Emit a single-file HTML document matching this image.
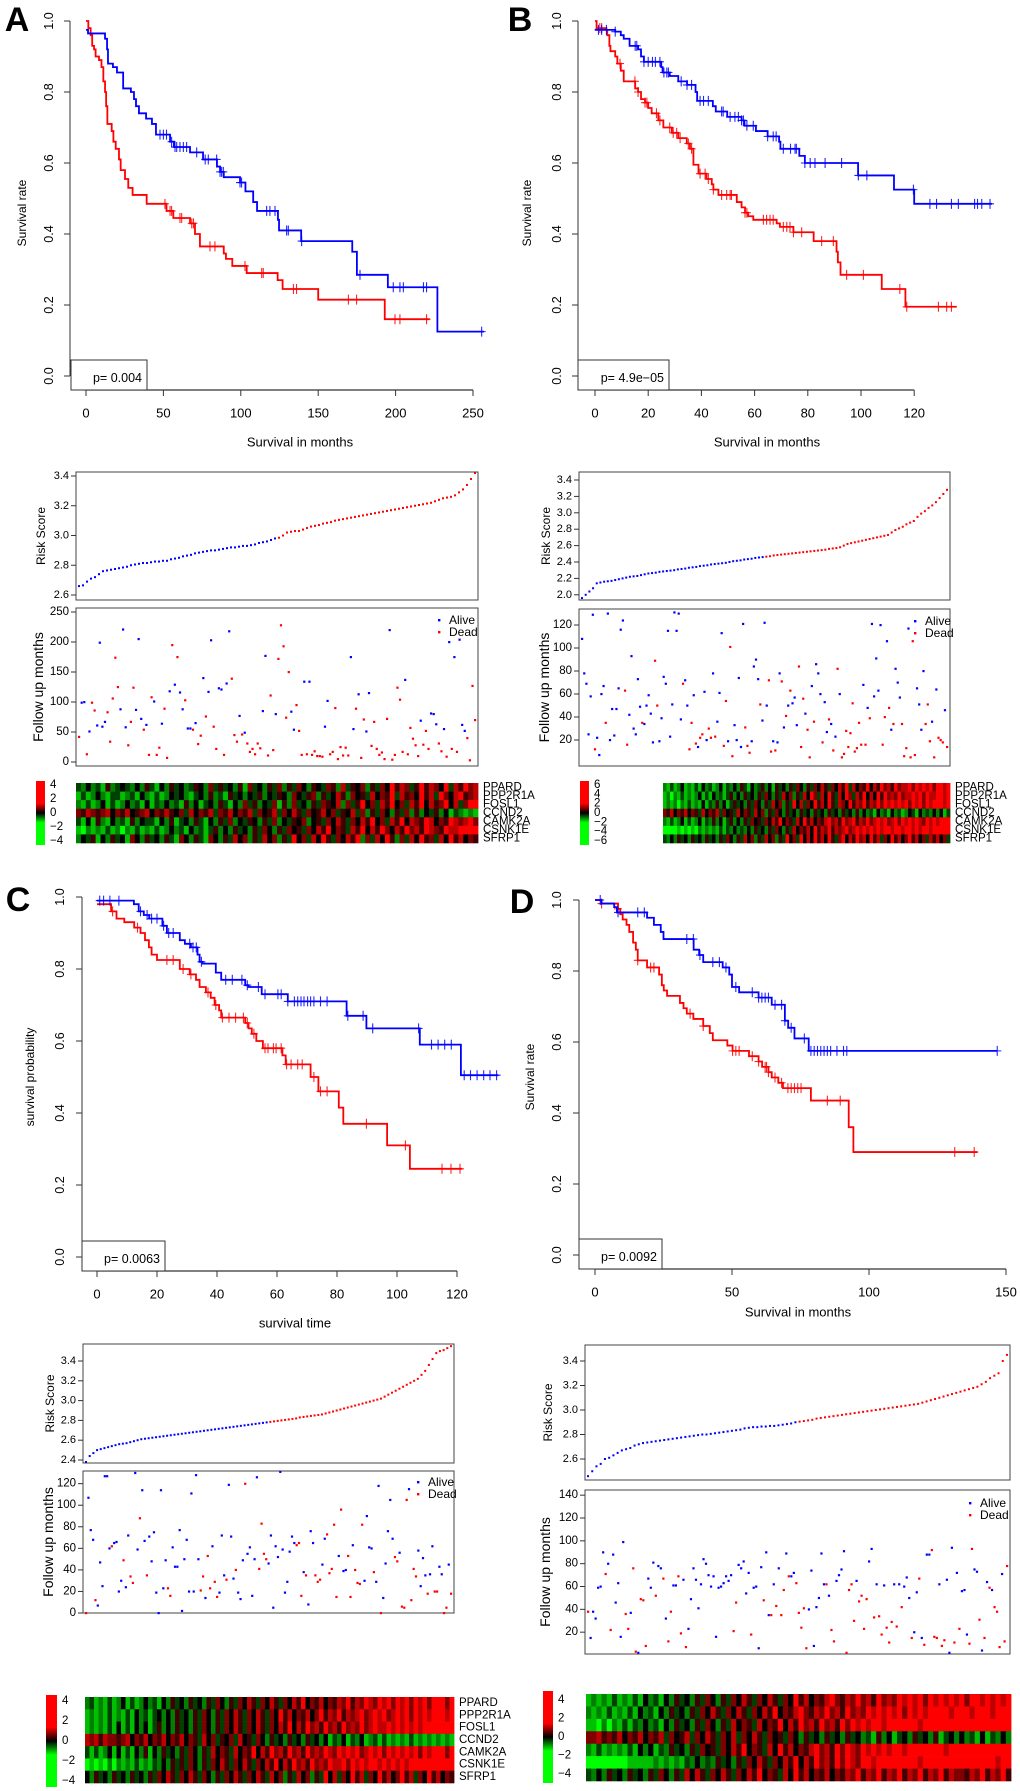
<!DOCTYPE html>
<html><head><meta charset="utf-8"><style>
html,body{margin:0;padding:0;background:#fff;}
svg{display:block;font-family:"Liberation Sans",Arial,sans-serif;}
</style></head><body>
<svg id="fig" width="1020" height="1791" viewBox="0 0 1020 1791" xmlns="http://www.w3.org/2000/svg">
<rect x="0" y="0" width="1020" height="1791" fill="#fff"/>
</svg>
<script>
// ===== KM data (time in months, survival) =====
const aBlueT=[1.3,12.3,13.6,14.2,17.4,20,24,29,31,32.3,34.2,38.8,42.6,45.2,54.3,56.8,67.2,75.6,84.6,86.6,89,99.5,103,108,110.5,124,124.7,139,172,175,195,227];
const aBlueS=[0.965,0.95,0.92,0.88,0.87,0.855,0.81,0.80,0.78,0.76,0.74,0.725,0.71,0.68,0.66,0.645,0.63,0.61,0.59,0.575,0.56,0.545,0.52,0.49,0.465,0.44,0.41,0.38,0.35,0.285,0.25,0.125];
const aBlueCens=[47.8,50,52,55.3,57.5,58.6,60.7,62.9,65,71.5,77,79,84.4,86.6,87.6,88.7,99.5,100.5,116.7,118.8,122.1,129.6,130.7,139.3,177,198.5,202.8,205,218,220,255.6];
const aRedT=[1.5,3,4,5.2,6.2,8.4,10,11.2,12.3,13,13.8,16.6,17.7,19.2,21.3,22.4,25.2,27.3,30.1,39.2,52,56.4,67.2,70.4,73.6,89,90.4,94.5,103.8,123.8,127,150,193];
const aRedS=[0.98,0.96,0.93,0.92,0.90,0.89,0.87,0.83,0.80,0.76,0.71,0.69,0.66,0.64,0.61,0.58,0.555,0.53,0.51,0.485,0.465,0.445,0.43,0.40,0.365,0.345,0.33,0.31,0.29,0.27,0.245,0.215,0.16];
const aRedCens=[51,54.3,55.3,60.7,61.8,68.3,69.4,80.1,83.3,102.7,113.5,114.5,134,136,169.5,174.8,199.6,202.8,220];

const bBlueT=[7.6,9.7,10.8,13,16.2,17.3,18.4,24.9,25.4,28.1,31.3,34.6,37.8,38.4,44.3,45.4,49.7,55.1,56.2,60.5,64.9,69.2,69.7,76.8,78.9,98.9,112.4,120];
const bBlueS=[0.97,0.96,0.95,0.93,0.92,0.90,0.885,0.87,0.855,0.845,0.83,0.82,0.80,0.775,0.76,0.745,0.73,0.72,0.705,0.69,0.675,0.66,0.64,0.62,0.60,0.565,0.525,0.485];
const bBlueCens=[1.3,2.5,4.3,7.6,15.1,15.7,18.4,20,21.6,22.7,24.4,25.9,27,27.6,32.4,34.6,36.3,39.5,40.8,42.6,47.6,48.2,50.8,52.6,53.9,55.1,55.8,57.1,59.5,64.9,67,68.1,70.8,73.5,75.2,75.7,78.9,80.9,82.7,86.5,92.7,99,102.2,119.7,125.9,128.4,134,136.6,142.7,143.8,145.4,148.5];
const bRedT=[0.6,4.3,4.6,5.4,5.8,7.6,8.4,9.7,10.8,15.1,16.2,17.3,18.8,20,21.3,23.8,25.7,28.9,31.3,34.5,35.7,37,38.9,41.9,43.9,44.5,46.4,53.3,55.1,56.4,57.6,59.5,68.3,69.5,74.6,82.2,90.8,91.3,92.3,107.8,116.7];
const bRedS=[0.98,0.975,0.96,0.93,0.915,0.90,0.88,0.86,0.83,0.81,0.80,0.78,0.77,0.755,0.74,0.72,0.70,0.685,0.67,0.655,0.64,0.595,0.57,0.555,0.54,0.525,0.51,0.49,0.475,0.46,0.45,0.44,0.43,0.42,0.405,0.38,0.35,0.32,0.285,0.245,0.195];
const bRedCens=[1.8,2.5,9.4,15,16.2,18.8,19.5,23.1,24.4,28.1,29.4,30.7,32,35.1,36.3,39.5,41.4,42.6,44.5,47.6,49.5,50.8,51.3,56.4,57.1,63.3,64.5,65.8,67,70.8,72.1,73.3,74.6,77.7,85.2,89.6,94.6,100.9,114.6,117.2,129.1,132.2,134];

const cBlueT=[12.3,13.9,15.6,17.4,21.8,23.3,27.6,29.3,31.3,33.5,34.2,35.2,39.6,41.4,49.4,50.5,54.9,63.6,83.2,89.8,107.6,121.3];
const cBlueS=[0.98,0.96,0.95,0.94,0.92,0.90,0.88,0.87,0.86,0.84,0.82,0.815,0.79,0.77,0.755,0.75,0.73,0.71,0.67,0.635,0.59,0.505];
const cBlueCens=[0.9,2.2,4.3,7.3,14.5,16.7,18.2,20,22.2,23.9,25.4,30.9,32,33.1,34.8,42.9,45.1,48.3,50.1,53.8,56,60.3,61.4,63.6,65.8,66.9,68,69,70.2,71.2,72.3,74.5,76.7,83.6,88.7,91.9,107.2,111.5,113.7,115.9,118.1,122.4,124.5,126.7,128.9,131,133.2];
const cRedT=[4.7,6.5,9.1,12.4,14.5,16,17.3,18.2,20,27.6,30.9,33,34.2,36.3,37.9,39.2,40.7,41.4,49.4,50.5,51.6,53.1,55.3,61.8,62.9,71.2,73.8,80.6,82.1,96.7,104.3];
const cRedS=[0.96,0.94,0.93,0.915,0.90,0.88,0.86,0.84,0.825,0.80,0.785,0.77,0.75,0.735,0.72,0.70,0.685,0.665,0.65,0.635,0.62,0.60,0.58,0.56,0.535,0.50,0.46,0.415,0.37,0.31,0.245];
const cRedCens=[5.2,13.5,23.3,25.4,28.7,31.3,37,39.6,41.8,44,46.2,48.8,50.1,52.3,56,57,58.8,59.7,61.4,63.2,64.7,66.9,68.4,72.3,74.5,76.7,89.8,102.8,115,118,121];

const dBlueT=[2.4,7,8,19,21.5,24,25,36,38,39.5,46.6,49,50,52.6,59.7,64.5,69.3,70.5,72.8,78];
const dBlueS=[0.99,0.98,0.965,0.95,0.93,0.91,0.89,0.86,0.845,0.825,0.81,0.79,0.755,0.74,0.725,0.705,0.66,0.64,0.61,0.575];
const dBlueCens=[1.9,8.4,15.6,18,33.5,35.9,38.3,43,45.4,47.8,51.4,57.4,59.7,60.9,62.1,63.3,65.7,68.1,69.3,71.6,76.4,78.8,80,81.2,82.4,83.6,84.8,86,88.3,90.7,91.9,146.8];
const dRedT=[2.4,8.4,9.2,10.1,11.5,12.5,13.9,14.9,15.6,19,23.4,24.4,25.1,26.3,31,32.3,33.5,35.9,39.5,41.9,43,48.3,50.2,56.2,59.7,61,63.3,64.5,66.9,68.6,78.8,92.6,94.3];
const dRedS=[0.99,0.975,0.96,0.945,0.93,0.91,0.88,0.86,0.83,0.81,0.79,0.76,0.745,0.73,0.71,0.695,0.68,0.665,0.645,0.625,0.605,0.59,0.575,0.56,0.545,0.53,0.515,0.50,0.485,0.47,0.435,0.36,0.29];
const dRedCens=[2.4,8.4,15.6,20.3,21.5,34.7,39.5,50.2,51.4,52.6,57.4,59.7,62.1,62.6,63.3,65.7,68.1,70.4,71.6,72.8,74,75.2,84.8,89.5,131.3,138.4];

// ===== Risk scores (sorted) =====
const riskA=[2.66,2.665,2.69,2.71,2.72,2.74,2.76,2.765,2.77,2.775,2.78,2.785,2.79,2.80,2.805,2.81,2.815,2.815,2.82,2.825,2.825,2.83,2.83,2.84,2.845,2.85,2.86,2.865,2.87,2.88,2.885,2.89,2.895,2.90,2.90,2.905,2.91,2.915,2.92,2.92,2.925,2.93,2.93,2.935,2.94,2.95,2.955,2.96,2.97,2.98,2.985,3.00,3.02,3.025,3.03,3.03,3.04,3.05,3.06,3.065,3.07,3.08,3.085,3.09,3.10,3.105,3.11,3.115,3.12,3.125,3.13,3.135,3.14,3.145,3.15,3.155,3.16,3.165,3.17,3.175,3.18,3.185,3.19,3.195,3.20,3.205,3.21,3.215,3.22,3.23,3.24,3.25,3.255,3.26,3.27,3.29,3.31,3.34,3.38,3.42];
const riskB=[1.96,2.0,2.04,2.08,2.14,2.15,2.16,2.165,2.17,2.18,2.19,2.2,2.21,2.22,2.225,2.23,2.24,2.25,2.26,2.265,2.27,2.28,2.285,2.29,2.295,2.30,2.31,2.315,2.32,2.33,2.335,2.34,2.35,2.355,2.36,2.37,2.375,2.38,2.385,2.39,2.40,2.41,2.415,2.42,2.43,2.435,2.44,2.45,2.455,2.46,2.465,2.47,2.48,2.485,2.49,2.495,2.50,2.505,2.51,2.515,2.52,2.525,2.53,2.535,2.54,2.545,2.55,2.56,2.565,2.57,2.58,2.60,2.62,2.63,2.64,2.65,2.66,2.67,2.68,2.69,2.70,2.71,2.72,2.73,2.76,2.79,2.81,2.83,2.86,2.88,2.90,2.95,2.99,3.02,3.06,3.09,3.13,3.18,3.23,3.28];
const riskC=[2.38,2.44,2.47,2.50,2.51,2.52,2.53,2.54,2.55,2.56,2.565,2.57,2.58,2.59,2.60,2.61,2.615,2.62,2.625,2.63,2.635,2.64,2.645,2.65,2.655,2.66,2.665,2.67,2.675,2.68,2.685,2.69,2.695,2.70,2.705,2.71,2.715,2.72,2.725,2.73,2.735,2.74,2.745,2.75,2.755,2.76,2.765,2.77,2.775,2.78,2.785,2.79,2.795,2.80,2.805,2.81,2.815,2.82,2.83,2.835,2.84,2.845,2.85,2.855,2.86,2.87,2.88,2.89,2.90,2.91,2.92,2.93,2.94,2.95,2.96,2.97,2.98,2.99,3.00,3.01,3.02,3.04,3.06,3.08,3.10,3.12,3.14,3.16,3.18,3.20,3.22,3.26,3.30,3.36,3.42,3.48,3.50,3.51,3.53,3.55];
const riskD=[2.46,2.50,2.54,2.56,2.60,2.61,2.63,2.65,2.67,2.68,2.69,2.71,2.72,2.73,2.735,2.74,2.745,2.75,2.755,2.76,2.765,2.77,2.775,2.78,2.785,2.79,2.795,2.80,2.80,2.805,2.81,2.815,2.82,2.825,2.83,2.835,2.84,2.85,2.855,2.86,2.86,2.865,2.865,2.87,2.87,2.875,2.88,2.885,2.89,2.90,2.905,2.91,2.915,2.92,2.93,2.935,2.94,2.945,2.95,2.955,2.96,2.965,2.97,2.975,2.98,2.985,2.99,2.995,3.00,3.005,3.01,3.015,3.02,3.025,3.03,3.035,3.04,3.045,3.05,3.06,3.07,3.08,3.09,3.10,3.11,3.12,3.13,3.14,3.15,3.16,3.17,3.18,3.19,3.21,3.23,3.26,3.28,3.30,3.40,3.45];

// ===== Follow-up scatter: months and status (1 = dead) =====
const followA=[42,99,100,13,51,99,86,61,199,59,67,83,34,106,174,125,88,221,58,28,67,124,87,205,72,54,62,12,108,101,12,24,64,89,7,118,195,129,175,116,88,103,56,56,54,65,30,44,140,76,117,203,59,22,123,121,12,131,218,139,45,34,77,46,49,31,17,22,13,31,23,85,177,11,111,20,80,172,228,193,74,150,84,54,95,52,12,134,13,134,12,18,10,10,9,59,102,13,17,90,5,25,11,24,11,175,55,89,113,7,71,51,115,27,67,22,12,16,5,72,220,4,12,124,104,17,137,13,57,39,28,10,69,29,52,22,81,80,63,31,18,55,9,200,22,175,17,204,62,52,40,3,127,70];
const statusA=[1,0,0,1,0,1,1,0,0,0,0,1,1,1,1,1,0,0,0,1,1,1,0,0,0,1,0,1,1,0,1,1,0,1,1,0,1,0,1,0,0,1,0,0,1,0,1,1,0,1,0,0,1,1,0,0,1,0,0,1,1,1,0,1,0,1,1,1,1,1,1,0,0,1,1,1,0,1,1,1,1,1,0,0,1,1,1,0,1,0,1,1,1,1,1,0,0,1,1,1,1,1,1,1,1,0,0,1,0,1,1,0,0,1,1,1,1,1,1,1,0,1,1,1,1,1,0,1,1,1,1,1,0,1,1,1,0,0,0,1,1,0,1,0,1,0,1,0,0,0,1,1,1,1];
const followB=[108,78,69,25,58,129,12,22,7,60,67,35,130,20,47,24,47,65,116,124,63,16,42,93,30,25,73,49,35,34,50,59,43,18,89,50,19,39,75,69,115,23,51,131,115,130,38,69,72,50,12,35,59,17,14,22,25,62,20,30,22,78,23,36,61,113,15,54,19,101,6,33,20,74,14,121,31,15,9,19,84,90,73,51,37,122,50,72,10,19,11,18,78,71,31,41,50,63,52,57,33,84,14,56,43,29,5,67,36,86,78,60,18,53,27,38,34,11,23,82,60,5,8,28,14,26,52,10,13,35,16,68,16,48,39,121,58,91,63,120,16,40,106,48,29,34,82,70,57,34,6,13,117,5,106,7,65,51,29,80,34,51,19,36,5,64,22,20,18,46,14];
const statusB=[0,0,0,0,0,0,1,0,0,0,0,1,0,0,0,0,0,0,0,0,1,1,0,0,0,0,0,0,1,0,0,0,0,0,1,1,0,0,0,0,0,0,0,0,0,0,0,1,0,0,1,1,0,1,0,1,1,0,0,1,1,0,1,0,0,0,1,1,0,1,1,0,0,0,0,0,1,1,1,0,0,0,0,1,0,0,0,1,1,0,1,0,0,1,0,1,0,1,0,0,0,1,1,1,0,1,1,0,1,0,0,0,1,0,0,1,0,1,0,1,0,1,1,1,1,1,1,1,1,1,1,0,1,0,1,0,0,0,0,0,1,1,0,1,0,1,0,0,0,1,1,1,0,1,1,1,0,0,0,0,1,1,1,0,1,0,1,1,1,0,1];
const followC=[0,107,77,68,12,7,47,25,127,127,60,62,65,66,20,30,49,24,72,34,28,130,59,88,114,67,35,71,48,75,19,0,114,23,49,23,16,61,43,43,77,2,50,68,20,111,20,128,50,21,34,14,53,23,62,29,15,19,72,35,31,119,71,32,40,19,13,49,120,55,61,16,50,126,41,83,55,50,46,72,5,62,52,131,59,19,29,57,71,65,63,65,16,38,35,8,76,65,35,29,31,45,69,73,37,41,82,15,53,96,39,40,53,15,63,40,28,27,82,30,90,61,60,38,29,118,0,14,46,76,105,69,52,48,56,6,5,105,115,12,41,34,58,25,51,35,18,36,62,20,20,43,36,0,5,45,18];
const statusC=[1,0,0,0,1,0,0,0,0,0,0,1,0,0,0,0,1,0,0,1,1,0,0,1,0,0,1,0,0,0,0,0,0,0,0,1,1,0,0,0,0,0,0,0,0,0,0,0,0,1,1,0,1,1,0,1,1,0,0,0,1,0,0,0,1,0,0,0,1,0,0,0,0,0,1,1,1,1,0,0,0,0,0,0,0,0,0,0,0,0,1,1,1,0,1,0,0,0,1,1,1,0,0,1,1,1,1,1,0,1,0,0,1,1,0,1,1,1,1,0,0,0,0,1,0,0,1,0,0,0,0,0,1,1,0,1,1,1,0,1,1,1,0,0,0,0,1,0,0,1,1,0,0,1,1,0,1];
const followD=[38,15,38,32,59,60,90,71,80,22,88,46,63,16,99,36,23,37,76,3,2,49,48,8,67,59,81,52,78,76,67,32,12,38,61,61,69,19,66,7,23,49,76,66,41,62,84,80,70,60,69,16,59,60,63,69,65,70,21,46,79,76,82,54,72,18,59,60,6,77,48,90,35,35,62,43,76,35,57,89,69,69,72,63,37,24,41,6,40,74,8,42,50,89,62,62,52,22,12,65,70,75,91,2,57,62,30,65,47,52,23,49,82,93,33,62,34,18,61,24,11,29,62,25,62,42,60,68,50,15,20,55,67,15,9,88,88,92,16,15,62,8,13,66,2,94,11,72,23,56,57,18,10,93,75,73,31,4,15,64,59,57,42,38,7,71,12,78];
const statusD=[1,0,0,0,0,0,0,1,0,1,0,0,0,0,0,1,1,0,1,1,0,1,1,1,0,0,0,1,0,0,1,0,1,1,0,0,1,1,0,1,0,0,0,0,0,0,0,0,0,0,0,0,0,0,0,0,0,0,1,1,0,0,0,0,0,1,0,0,0,0,1,0,0,1,0,1,0,1,1,0,1,0,0,1,1,1,1,1,0,0,0,0,0,0,0,1,0,1,1,0,0,0,0,1,1,1,1,0,1,1,1,1,0,0,1,0,1,1,0,1,1,1,0,1,0,1,0,0,0,1,0,0,1,0,1,0,0,1,1,1,0,1,1,0,0,0,1,0,1,0,0,0,1,1,0,0,1,0,1,0,1,0,1,1,1,0,1,1];

// ===== Heatmap rows (0..8, 4 = 0) =====
const genes=["PPARD","PPP2R1A","FOSL1","CCND2","CAMK2A","CSNK1E","SFRP1"];
const heatA=[
"3242315234324253142534235426353425163425362536425436527354625364857635857648375867",
"1312421331231421312434213425231534243524354264356253475264537465837564857386478567",
"2131241312423141324231524134253142635243615263425365472635846375846375847568473688",
"6576567465745674657546374657365746573645736475364574635473625364253625243524132121",
"3141521423152433142513425314253624354253624354624536475364758463758476587465876786",
"1021213120213121312423142313524253425364253645364758465375847586475867587658778888",
"2435142534164253425316425316425374625374625384637485364758263748526374856374857465"];
const heatB=[
"2131241213142312413242531423524153425364253647536475837465847586758677868787868878",
"1202131212413142313524253425364253746253748637485374863758474858676867787868778878",
"1212021312141325241353425364253746253847364857485376485768576868787878687868788878",
"6574657465374657364537465374625364253425342534253425342524231423142312431423242413",
"2131241312413252413524253645364758465374857465786758678576867878678687878768787888",
"0000101010212121313242324253425364253746574857685767867878787878878878878788788888",
"3242534253425342536425374625374625384638474857485368475867485736485746857463757463"];
const heatC=[
"2312131241312423142534253425364253647536475364758465746576857687687868786878688868",
"1212131213142313424253425364253647536475364857465746857685767867878678786878788878",
"1212131413142413524253425364253647536475364758475867586758676867877878787878888888",
"7675766567465746574657465374635463745364253425342534241324132412313121213121212121",
"3131241413142514253425364253746537465847586758675867687687878678786878787868788868",
"0101020212131213242535364253647536475364758475867586768778687878878787878888888888",
"4253425342534253647536475364253647536475374625374625384736485736485746857364857465"];
const heatD=[
"1212131213142314253425364253647536475364857465786576867586768787868787878688787878",
"2121312131423142534253647536475364758465786576867586768787878687878888788878887888",
"1102021313242314253425364253746537465847586758675868787887888888788888888888888888",
"6675657465746573645736475364736475364536425342534253423152413425342513424231413242",
"2131212131424132534253645364758465374857465786758687687878788788888887888888888888",
"0000000011111212121324232534253647536475847586758687688788888888788888888888888788",
"3242534253425364253747536475364758465374857465746576857685768576857685766576857685"];

// ===== drawing helpers =====
const NS='http://www.w3.org/2000/svg';
const fig=document.getElementById('fig');
function mk(tag,parent){const e=document.createElementNS(NS,tag);parent.appendChild(e);return e;}
function attrs(e,o){for(const k in o)e.setAttribute(k,o[k]);return e;}
function group(name){const g=mk('g',fig);


return g;}
function text(parent,x,y,s,size,anchor,rot,name,weight){
const t=mk('text',parent);
attrs(t,{x:x,y:y,'font-size':size,'text-anchor':anchor||'middle','dominant-baseline':'central',fill:'#000'});
if(weight)t.setAttribute('font-weight',weight);
if(rot)t.setAttribute('transform','rotate('+rot+' '+x+' '+y+')');
t.textContent=s;


return t;}
function line(parent,x1,y1,x2,y2,stroke,w,name){
const l=mk('line',parent);
attrs(l,{x1:x1,y1:y1,x2:x2,y2:y2,stroke:stroke,'stroke-width':w});


return l;}
function rect(parent,x,y,w,h,fill,stroke,name){
const r=mk('rect',parent);
attrs(r,{x:x,y:y,width:w,height:h,fill:fill,stroke:stroke||'none','stroke-width':1});


return r;}

function survAt(T,S,start,t){let s=start;for(let i=0;i<T.length;i++){if(T[i]<=t)s=S[i];}return s;}

function drawKM(p){
const g=group(p.name);
const X=t=>p.xa+(t-p.t0)*p.kx, Y=s=>p.y0-(p.y0-p.y1)*s;
line(g,p.axX,Y(0),p.axX,Y(1),'#333',1,'y-axis-line');
for(let v=0;v<=1.0001;v+=0.2){
 line(g,p.axX-6,Y(v),p.axX,Y(v),'#333',1,'y-tick');
 text(g,p.ylx,Y(v),v.toFixed(1),12.5,'middle',-90,'y-tick-label');}
text(g,p.ylabX,p.ylabY,p.ylab,12,'middle',-90,'y-axis-title');
line(g,X(p.xticks[0]),p.axY,X(p.xticks[p.xticks.length-1]),p.axY,'#333',1.2,'x-axis-line');
p.xticks.forEach(v=>{line(g,X(v),p.axY,X(v),p.axY+6,'#333',1,'x-tick');
 text(g,X(v),p.axY+23,String(v),13,'middle',0,'x-tick-label');});
text(g,p.titleX,p.titleY,p.title,13,'middle',0,'x-axis-title');
rect(g,p.pb[0],p.pb[1],p.pb[2],p.pb[3],'#fff','#333','p-value-box');
text(g,p.pb[0]+p.pb[2]-5,p.pb[1]+p.pb[3]/2+3,p.ptxt,12.5,'end',0,'p-value-text');
text(g,p.letX,p.letY,p.letter,34,'middle',0,'panel-label','bold');
p.curves.forEach(c=>{
 let d='M'+X(0)+' '+Y(c.start);
 for(let i=0;i<c.T.length;i++){d+=' H'+X(c.T[i])+' V'+Y(c.S[i]);}
 d+=' H'+X(c.end);
 const path=mk('path',g);
 attrs(path,{d:d,fill:'none',stroke:c.color,'stroke-width':1.8});
 
 
 c.C.forEach(t=>{const s=survAt(c.T,c.S,c.start,t);
  const cm=mk('path',g);
  attrs(cm,{d:'M'+(X(t)-4)+' '+Y(s)+' H'+(X(t)+4)+' M'+X(t)+' '+(Y(s)-5)+' V'+(Y(s)+5),stroke:c.color,'stroke-width':1.1,opacity:0.85});
  
  });
});}

function drawRisk(p){
const g=group(p.name);
const Y=v=>p.yRef+(p.vRef-v)*p.ky;
rect(g,p.l,p.t,p.r-p.l,p.b-p.t,'none','#444','risk-plot-frame');
p.ticks.forEach(v=>{line(g,p.l-5,Y(v),p.l,Y(v),'#333',1,'y-tick');
 text(g,p.l-7,Y(v),v.toFixed(1),11,'end',0,'y-tick-label');});
text(g,p.ylabX,(p.t+p.b)/2,'Risk Score',12,'middle',-90,'y-axis-title');
const n=p.vals.length;
p.vals.forEach((v,i)=>{const c=mk('rect',g);
 attrs(c,{x:p.l+3+i*(p.r-p.l-6)/(n-1)-1,y:Y(v)-1,width:2,height:2,fill:i<n/2?'#0000ff':'#ff0000'});
 
 });}

function drawScatter(p){
const g=group(p.name);
const Y=v=>p.y0-v*p.ky;
rect(g,p.l,p.t,p.r-p.l,p.b-p.t,'none','#444','followup-plot-frame');
p.ticks.forEach(v=>{line(g,p.l-5,Y(v),p.l,Y(v),'#333',1,'y-tick');
 text(g,p.l-7,Y(v),String(v),11.5,'end',0,'y-tick-label');});
text(g,p.ylabX,(p.t+p.b)/2,'Follow up months',14,'middle',-90,'y-axis-title');
const n=p.vals.length;
p.vals.forEach((v,i)=>{const y=Y(v);if(y<p.t||y>p.b)return;
 const c=mk('rect',g);
 attrs(c,{x:p.l+3+i*(p.r-p.l-6)/(n-1)-1,y:y-1,width:2.2,height:2.2,fill:p.stat[i]?'#ff0000':'#0000ff'});
 
 });
const lg=mk('g',g);


rect(lg,p.lgx-1,p.lgy-1,2.4,2.4,'#0000ff',null,'legend-alive-marker');
text(lg,p.lgx+10,p.lgy,'Alive',12,'start',0,'legend-alive-label');
rect(lg,p.lgx-1,p.lgy+12-1,2.4,2.4,'#ff0000',null,'legend-dead-marker');
text(lg,p.lgx+10,p.lgy+12,'Dead',12,'start',0,'legend-dead-label');}

function col(v){v=v-4;const r=v>0?Math.round(255*Math.min(1,v/4)):0;const gg=v<0?Math.round(255*Math.min(1,-v/4)):0;return 'rgb('+r+','+gg+',0)';}
function drawHeat(p){
const g=group(p.name);
const rh=(p.b-p.t)/p.rows.length;
p.rows.forEach((row,ri)=>{const cw=(p.r-p.l)/row.length;
 for(let i=0;i<row.length;i++){const c=mk('rect',g);
  attrs(c,{x:p.l+i*cw,y:p.t+ri*rh,width:cw+0.4,height:rh+0.3,fill:col(+row[i])});
  
  }
 if(p.labels)text(g,p.r+5,p.t+(ri+0.5)*rh,genes[ri],11.5,'start',0,'gene-label');});
const defs=mk('defs',g);
const lgd=mk('linearGradient',defs);
attrs(lgd,{id:p.name+'-grad',x1:0,y1:0,x2:0,y2:1});
[['0','#ff0000'],['0.35','#ff0000'],['0.5','#000000'],['0.65','#00ff00'],['1','#00ff00']].forEach(s=>{const st=mk('stop',lgd);attrs(st,{offset:s[0],'stop-color':s[1]});});
rect(g,p.cb[0],p.cb[1],p.cb[2],p.cb[3],'url(#'+p.name+'-grad)',null,'colorbar');
const cy=v=>p.cb[1]+(p.cmax-v)/(2*p.cmax)*p.cb[3];
p.cticks.forEach(v=>text(g,p.cb[0]+p.cb[2]+5,cy(v),String(v).replace('-','\u2212'),11.5,'start',0,'colorbar-label'));}

// ===== panels =====
drawKM({name:'km-plot-a',letter:'A',letX:17,letY:20,xa:86,t0:0,kx:1.548,y0:376,y1:21,axX:70,axY:390,ylx:49,ylab:'Survival rate',ylabX:22,ylabY:213,
 xticks:[0,50,100,150,200,250],title:'Survival in months',titleX:300,titleY:442,pb:[71,360,76,30],ptxt:'p= 0.004',
 curves:[{name:'high-risk-curve',T:aRedT,S:aRedS,C:aRedCens,start:1.0,end:222,color:'#ff0000'},{name:'low-risk-curve',T:aBlueT,S:aBlueS,C:aBlueCens,start:0.975,end:257,color:'#0000ff'}]});
drawKM({name:'km-plot-b',letter:'B',letX:520,letY:20,xa:595,t0:0,kx:2.66,y0:376,y1:21,axX:578,axY:390,ylx:557,ylab:'Survival rate',ylabX:527,ylabY:213,
 xticks:[0,20,40,60,80,100,120],title:'Survival in months',titleX:767,titleY:442,pb:[578,360,91,30],ptxt:'p= 4.9e\u221205',
 curves:[{name:'high-risk-curve',T:bRedT,S:bRedS,C:bRedCens,start:1.0,end:136,color:'#ff0000'},{name:'low-risk-curve',T:bBlueT,S:bBlueS,C:bBlueCens,start:0.975,end:149.2,color:'#0000ff'}]});
drawKM({name:'km-plot-c',letter:'C',letX:18,letY:900,xa:97,t0:0,kx:3,y0:1257,y1:897,axX:82,axY:1271,ylx:60,ylab:'survival probability',ylabX:30,ylabY:1077,
 xticks:[0,20,40,60,80,100,120],title:'survival time',titleX:295,titleY:1323,pb:[82,1241,83,30],ptxt:'p= 0.0063',
 curves:[{name:'high-risk-curve',T:cRedT,S:cRedS,C:cRedCens,start:0.98,end:121.7,color:'#ff0000'},{name:'low-risk-curve',T:cBlueT,S:cBlueS,C:cBlueCens,start:0.99,end:133.8,color:'#0000ff'}]});
drawKM({name:'km-plot-d',letter:'D',letX:522,letY:902,xa:595,t0:0,kx:2.74,y0:1255,y1:900,axX:579,axY:1269,ylx:557,ylab:'Survival rate',ylabX:530,ylabY:1077,
 xticks:[0,50,100,150],title:'Survival in months',titleX:798,titleY:1312,pb:[579,1239,83,30],ptxt:'p= 0.0092',
 curves:[{name:'high-risk-curve',T:dRedT,S:dRedS,C:dRedCens,start:1.0,end:139.6,color:'#ff0000'},{name:'low-risk-curve',T:dBlueT,S:dBlueS,C:dBlueCens,start:1.0,end:146.8,color:'#0000ff'}]});

drawRisk({name:'risk-score-plot-a',l:76,r:478,t:472,b:600,yRef:476,vRef:3.4,ky:148.75,ticks:[2.6,2.8,3.0,3.2,3.4],ylabX:41,vals:riskA});
drawRisk({name:'risk-score-plot-b',l:579,r:950,t:472,b:600,yRef:480,vRef:3.4,ky:82,ticks:[2.0,2.2,2.4,2.6,2.8,3.0,3.2,3.4],ylabX:546,vals:riskB});
drawRisk({name:'risk-score-plot-c',l:83,r:454,t:1344,b:1463,yRef:1361,vRef:3.4,ky:99,ticks:[2.4,2.6,2.8,3.0,3.2,3.4],ylabX:50,vals:riskC});
drawRisk({name:'risk-score-plot-d',l:585,r:1010,t:1345,b:1480,yRef:1361,vRef:3.4,ky:122.5,ticks:[2.6,2.8,3.0,3.2,3.4],ylabX:548,vals:riskD});

drawScatter({name:'followup-plot-a',l:76,r:478,t:608,b:766,y0:762,ky:0.6,ticks:[0,50,100,150,200,250],ylabX:38,vals:followA,stat:statusA,lgx:439,lgy:620});
drawScatter({name:'followup-plot-b',l:579,r:950,t:609,b:766,y0:763,ky:1.15,ticks:[20,40,60,80,100,120],ylabX:544,vals:followB,stat:statusB,lgx:915,lgy:621});
drawScatter({name:'followup-plot-c',l:83,r:454,t:1471,b:1613,y0:1613,ky:1.0778,ticks:[0,20,40,60,80,100,120],ylabX:48,vals:followC,stat:statusC,lgx:418,lgy:1482});
drawScatter({name:'followup-plot-d',l:585,r:1010,t:1490,b:1654,y0:1655,ky:1.1417,ticks:[20,40,60,80,100,120,140],ylabX:545,vals:followD,stat:statusD,lgx:970,lgy:1503});

drawHeat({name:'heatmap-a',l:76,r:478,t:783,b:843,rows:heatA,labels:true,cb:[36,781,9,64],cmax:4.6,cticks:[4,2,0,-2,-4]});
drawHeat({name:'heatmap-b',l:663,r:950,t:783,b:843,rows:heatB,labels:true,cb:[580,781,9,64],cmax:6.9,cticks:[6,4,2,0,-2,-4,-6]});
drawHeat({name:'heatmap-c',l:85,r:454,t:1697,b:1783,rows:heatC,labels:true,cb:[46,1695,11,92],cmax:4.6,cticks:[4,2,0,-2,-4]});
drawHeat({name:'heatmap-d',l:586,r:1011,t:1694,b:1781,rows:heatD,labels:false,cb:[543,1691,10,92],cmax:5,cticks:[4,2,0,-2,-4]});
</script>
</body></html>
